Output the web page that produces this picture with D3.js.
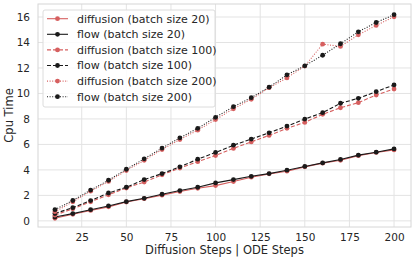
<!DOCTYPE html>
<html>
<head>
<meta charset="utf-8">
<script src="https://cdn.jsdelivr.net/npm/d3@7"></script>
<style>
  body { margin: 0; background: #fff; }
  text { font-family: "DejaVu Sans", sans-serif; fill: #262626; }
</style>
</head>
<body>
<svg id="chart" width="416" height="262"></svg>
<script>
// steps on the x axis
var steps = [10, 20, 30, 40, 50, 60, 70, 80, 90, 100, 110, 120, 130, 140, 150, 160, 170, 180, 190, 200];

// cpu time per series
var diffusion20 = [0.2, 0.52, 0.82, 1.1, 1.48, 1.74, 2.02, 2.3, 2.56, 2.77, 3.09, 3.43, 3.69, 3.9, 4.24, 4.53, 4.76, 5.12, 5.37, 5.57];
var flow20 = [0.3, 0.57, 0.88, 1.17, 1.51, 1.77, 2.09, 2.38, 2.64, 2.98, 3.24, 3.5, 3.71, 3.98, 4.27, 4.55, 4.82, 5.16, 5.39, 5.65];
var diffusion100 = [0.45, 0.95, 1.5, 2.05, 2.58, 3.05, 3.62, 4.15, 4.65, 5.13, 5.69, 6.2, 6.71, 7.26, 7.73, 8.36, 8.88, 9.28, 9.88, 10.35];
var flow100 = [0.58, 1.04, 1.59, 2.19, 2.64, 3.24, 3.71, 4.24, 4.84, 5.37, 5.94, 6.42, 6.91, 7.44, 7.99, 8.49, 9.23, 9.62, 10.14, 10.67];
var diffusion200 = [0.72, 1.5, 2.33, 3.1, 3.95, 4.75, 5.6, 6.38, 7.12, 7.95, 8.8, 9.54, 10.45, 11.22, 12.15, 13.87, 13.69, 14.6, 15.34, 16.02];
var flow200 = [0.88, 1.6, 2.42, 3.19, 4.05, 4.87, 5.71, 6.52, 7.26, 8.13, 8.96, 9.67, 10.49, 11.46, 12.17, 13.0, 13.9, 14.84, 15.57, 16.18];

var xTicks = [25, 50, 75, 100, 125, 150, 175, 200];
var yTicks = [0, 2, 4, 6, 8, 10, 12, 14, 16];

var red = "#d65f5f", black = "#1a1a1a";

var series = [
  { name: "diffusion (batch size 20)", values: diffusion20, color: red, dash: null },
  { name: "flow (batch size 20)", values: flow20, color: black, dash: null },
  { name: "diffusion (batch size 100)", values: diffusion100, color: red, dash: "4,2" },
  { name: "flow (batch size 100)", values: flow100, color: black, dash: "4,2" },
  { name: "diffusion (batch size 200)", values: diffusion200, color: red, dash: "1,1.6" },
  { name: "flow (batch size 200)", values: flow200, color: black, dash: "1,1.6" }
];

var svg = d3.select("#chart");
var pLeft = 38, pRight = 411, pTop = 4, pBottom = 227;

var x = d3.scaleLinear().domain([0.5, 209.5]).range([pLeft, pRight]);
var y = d3.scaleLinear().domain([-0.48, 17.02]).range([pBottom, pTop]);

// grid
svg.append("g").selectAll("line").data(xTicks).enter().append("line")
  .attr("x1", d => x(d)).attr("x2", d => x(d))
  .attr("y1", pTop).attr("y2", pBottom)
  .attr("stroke", "#e3e3e3").attr("stroke-width", 1);
svg.append("g").selectAll("line").data(yTicks).enter().append("line")
  .attr("x1", pLeft).attr("x2", pRight)
  .attr("y1", d => y(d)).attr("y2", d => y(d))
  .attr("stroke", "#e3e3e3").attr("stroke-width", 1);

// frame
svg.append("rect").attr("x", pLeft).attr("y", pTop)
  .attr("width", pRight - pLeft).attr("height", pBottom - pTop)
  .attr("fill", "none").attr("stroke", "#d6d6d6").attr("stroke-width", 1);

// axes (labels only)
var xAxis = svg.append("g").attr("transform", "translate(0," + pBottom + ")")
  .call(d3.axisBottom(x).tickValues(xTicks).tickSize(0).tickPadding(7));
var yAxis = svg.append("g").attr("transform", "translate(" + pLeft + ",0)")
  .call(d3.axisLeft(y).tickValues(yTicks).tickSize(0).tickPadding(8));
[xAxis, yAxis].forEach(function(a) {
  a.select(".domain").remove();
  a.selectAll("text").attr("font-size", 10.5).style("font-family", "DejaVu Sans").attr("fill", "#262626");
});

// lines
var line = d3.line().x((d, i) => x(steps[i])).y(d => y(d));
series.forEach(function(s) {
  svg.append("path").datum(s.values)
    .attr("d", line)
    .attr("fill", "none")
    .attr("stroke", s.color)
    .attr("stroke-width", 1.1)
    .attr("stroke-dasharray", s.dash);
  svg.append("g").selectAll("circle").data(s.values).enter().append("circle")
    .attr("cx", (d, i) => x(steps[i])).attr("cy", d => y(d))
    .attr("r", 2.4).attr("fill", s.color);
});

// axis titles
svg.append("text").attr("x", (pLeft + pRight) / 2).attr("y", 254)
  .attr("text-anchor", "middle").attr("font-size", 11.5)
  .text("Diffusion Steps | ODE Steps");
svg.append("text").attr("transform", "translate(13," + ((pTop + pBottom) / 2) + ") rotate(-90)")
  .attr("text-anchor", "middle").attr("font-size", 11.5)
  .text("Cpu Time");

// legend
var lg = svg.append("g").attr("transform", "translate(43,10)");
lg.append("rect").attr("width", 172).attr("height", 97).attr("rx", 2)
  .attr("fill", "#fff").attr("fill-opacity", 0.85)
  .attr("stroke", "#dcdcdc").attr("stroke-width", 1);
var row = lg.selectAll("g.row").data(series).enter().append("g")
  .attr("transform", (d, i) => "translate(0," + (8.7 + i * 15.6) + ")");
row.append("line").attr("x1", 4).attr("x2", 25)
  .attr("stroke", d => d.color).attr("stroke-width", 1.1)
  .attr("stroke-dasharray", d => d.dash);
row.append("circle").attr("cx", 14.5).attr("r", 2.4).attr("fill", d => d.color);
row.append("text").attr("x", 34).attr("dy", "0.35em").attr("font-size", 11)
  .text(d => d.name);
</script>
</body>
</html>
